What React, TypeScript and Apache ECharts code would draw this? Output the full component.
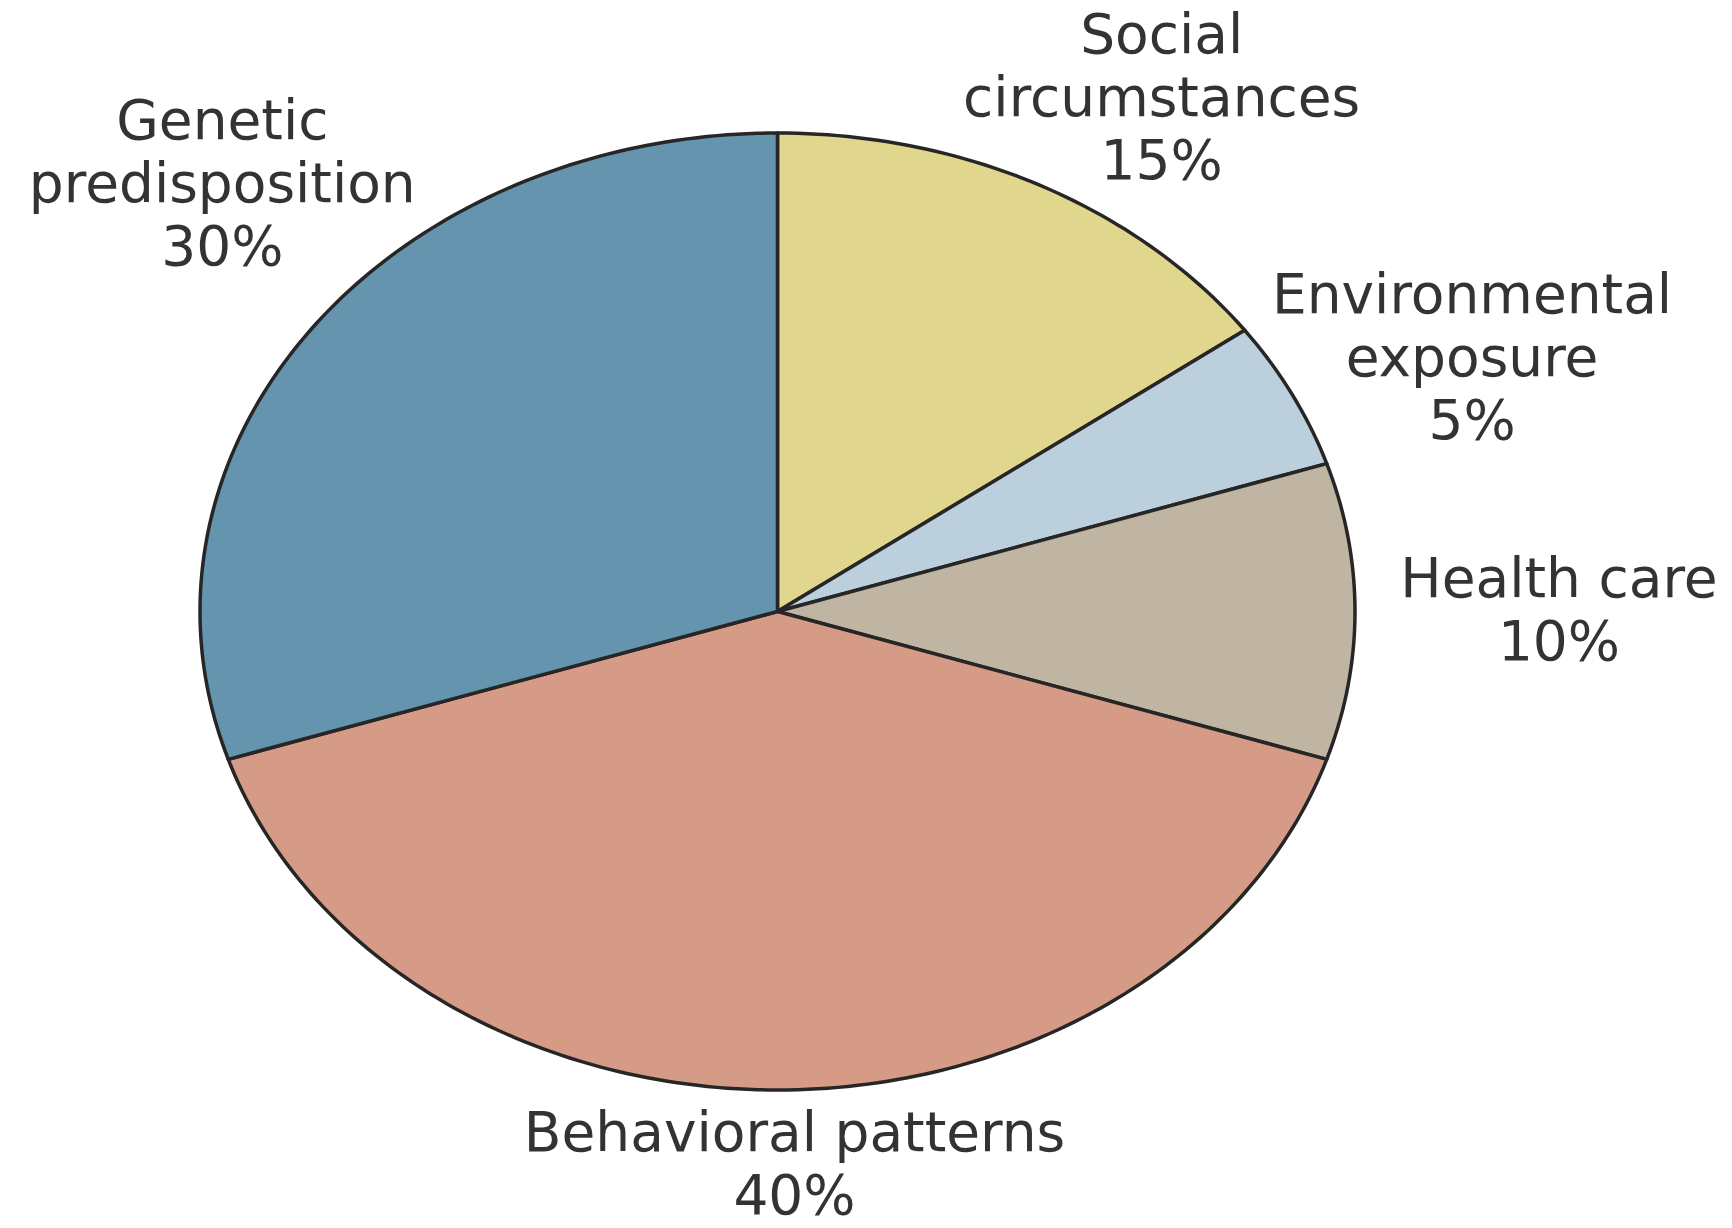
import React, { useEffect, useRef } from "react";
import * as echarts from "echarts";

// ---- Data ----
const CATEGORIES = [
  "Social\ncircumstances",
  "Environmental\nexposure",
  "Health care",
  "Behavioral patterns",
  "Genetic\npredisposition",
];
const VALUES = [15, 5, 10, 40, 30];
const COLORS = ["#e0d68e", "#bccfdc", "#c0b4a2", "#d69b86", "#6594ae"];

// ---- Layout (not data) ----
const CX = 777.5;
const CY = 611.5;
const RX = 577.5;
const RY = 478.5;
// label offsets relative to the ellipse point at each slice's mid angle
const LABEL_OFFSETS: [number, number][] = [
  [122, -88],
  [180, -37],
  [204, -2],
  [17, 73],
  [-88, -147],
];

const TOTAL = VALUES.reduce((a, b) => a + b, 0);

function ellipsePoint(t: number): [number, number] {
  return [CX + RX * Math.cos(t), CY + RY * Math.sin(t)];
}

export default function App() {
  const ref = useRef<HTMLDivElement>(null);
  useEffect(() => {
    if (!ref.current) return;
    const chart = echarts.init(ref.current, undefined, { renderer: "svg" });
    const cum: number[] = [];
    VALUES.reduce((acc, v) => {
      cum.push(acc);
      return acc + v;
    }, 0);

    const renderItem = (params: any) => {
      const i = params.dataIndex;
      const v = VALUES[i];
      const start = -Math.PI / 2 + (2 * Math.PI * cum[i]) / TOTAL;
      const end = start + (2 * Math.PI * v) / TOTAL;
      const steps = Math.max(8, Math.ceil(((end - start) * 180) / Math.PI));
      const pts: [number, number][] = [[CX, CY]];
      for (let k = 0; k <= steps; k++) {
        pts.push(ellipsePoint(start + ((end - start) * k) / steps));
      }
      const mid = (start + end) / 2;
      const [mx, my] = ellipsePoint(mid);
      const [dx, dy] = LABEL_OFFSETS[i];
      const pct = Math.round((v / TOTAL) * 100);
      return {
        type: "group",
        children: [
          {
            type: "polygon",
            shape: { points: pts },
            style: {
              fill: COLORS[i],
              stroke: "#262626",
              lineWidth: 3.5,
              lineJoin: "round",
            },
          },
          {
            type: "text",
            x: mx + dx,
            y: my + dy,
            style: {
              text: `${CATEGORIES[i]}\n${pct}%`,
              fill: "#333333",
              fontSize: 55,
              fontFamily: "DejaVu Sans",
              lineHeight: 63,
              align: "center",
              verticalAlign: "middle",
            },
          },
        ],
      };
    };

    chart.setOption({
      animation: false,
      backgroundColor: "#ffffff",
      series: [
        {
          type: "custom",
          coordinateSystem: "none",
          renderItem,
          data: VALUES.map((v, i) => ({ name: CATEGORIES[i], value: [i, v] })),
        },
      ],
    });
    return () => chart.dispose();
  }, []);
  return (
    <div
      ref={ref}
      style={{
        position: "absolute",
        left: 0,
        top: 0,
        width: 1732,
        height: 1228,
        background: "#ffffff",
      }}
    />
  );
}
